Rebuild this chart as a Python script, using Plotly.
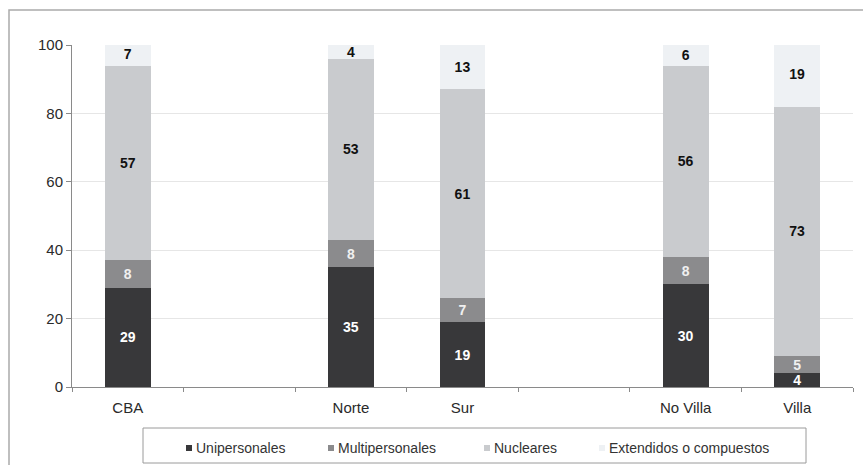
import plotly.graph_objects as go

# Household composition (%) by area
categories = ["CBA", "Norte", "Sur", "No Villa", "Villa"]
positions = [0, 2, 3, 5, 6]  # blank slots separate the groups

series_names = ["Unipersonales", "Multipersonales", "Nucleares", "Extendidos o compuestos"]
unipersonales = [29, 35, 19, 30, 4]
multipersonales = [8, 8, 7, 8, 5]
nucleares = [57, 53, 61, 56, 73]
extendidos = [7, 4, 13, 6, 19]

y_ticks = [0, 20, 40, 60, 80, 100]

values = [unipersonales, multipersonales, nucleares, extendidos]
colors = ["#38383a", "#8b8b8d", "#c9cbce", "#eef1f4"]
text_colors = ["#ffffff", "#f0f0f0", "#111111", "#111111"]

FONT = "Liberation Sans, Arial, sans-serif"
W, H = 863, 465
ML, MR, MT, MB = 72, 10, 45, 78
PW, PH = W - ML - MR, H - MT - MB


def px_x(x):
    """Pixel column -> paper x."""
    return (x - ML) / PW


def px_y(y):
    """Pixel row -> paper y."""
    return (H - MB - y) / PH


fig = go.Figure()
for name, vals, col, tcol in zip(series_names, values, colors, text_colors):
    fig.add_trace(go.Bar(
        x=positions, y=vals, name=name,
        marker=dict(color=col, line=dict(width=0)),
        width=0.41,
        text=[str(v) for v in vals],
        textposition="inside",
        insidetextanchor="middle",
        textangle=0,
        textfont=dict(family=FONT, size=14, color=tcol),
        texttemplate="<b>%{text}</b>",
        hoverinfo="skip",
        showlegend=False,
    ))

# Legend: frame, small square keys and labels
legend_key_x = [186, 328, 484, 599]
shapes = [
    # outer frame (top and left edges visible)
    dict(type="rect", xref="paper", yref="paper",
         x0=px_x(9), x1=px_x(875), y0=px_y(475), y1=px_y(10),
         line=dict(color="#aaaaaa", width=1.5), fillcolor="rgba(0,0,0,0)", layer="below"),
    # legend box
    dict(type="rect", xref="paper", yref="paper",
         x0=px_x(143), x1=px_x(806), y0=px_y(463), y1=px_y(428),
         line=dict(color="#9a9a9a", width=1), fillcolor="white", layer="below"),
]
annotations = []
for name, col, kx in zip(series_names, colors, legend_key_x):
    shapes.append(dict(type="rect", xref="paper", yref="paper",
                       x0=px_x(kx), x1=px_x(kx + 6), y0=px_y(451), y1=px_y(445),
                       line=dict(width=0), fillcolor=col))
    annotations.append(dict(xref="paper", yref="paper", x=px_x(kx + 8), y=px_y(448),
                            xanchor="left", yanchor="middle", showarrow=False,
                            text=name, font=dict(family=FONT, size=14, color="#333333")))

fig.update_layout(
    barmode="stack",
    width=W, height=H,
    margin=dict(l=ML, r=MR, t=MT, b=MB),
    paper_bgcolor="white", plot_bgcolor="white",
    font=dict(family=FONT, size=15, color="#2a2a2a"),
    uniformtext=dict(minsize=14, mode="show"),
    showlegend=False,
    xaxis=dict(
        range=[-0.5, 6.5], tickvals=positions, ticktext=categories,
        ticks="", showgrid=False, zeroline=False,
        showline=True, linecolor="#8a8a8a", linewidth=1,
        tickfont=dict(family=FONT, size=15, color="#2a2a2a"),
        ticklabelstandoff=7,
        minor=dict(tickvals=[-0.5, 0.5, 1.5, 2.5, 3.5, 4.5, 5.5, 6.5],
                   ticks="outside", ticklen=4, tickcolor="#8a8a8a", showgrid=False),
    ),
    yaxis=dict(
        range=[0, 100], tickvals=y_ticks,
        ticks="outside", ticklen=5, tickcolor="#8a8a8a",
        showline=True, linecolor="#8a8a8a", linewidth=1,
        showgrid=True, gridcolor="#e6e6e6", gridwidth=1,
        zeroline=False,
        tickfont=dict(family=FONT, size=15, color="#2a2a2a"),
    ),
    shapes=shapes,
    annotations=annotations,
)

fig.write_html("out.html")
